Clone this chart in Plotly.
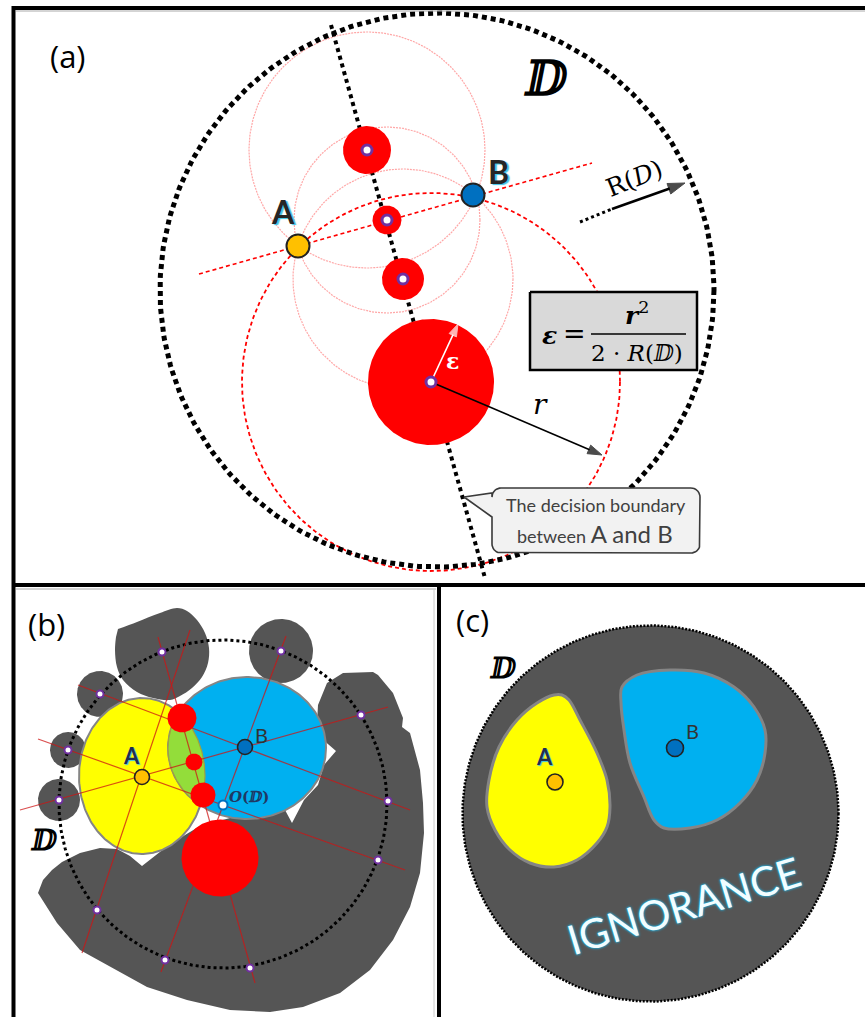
import numpy as np
import plotly.graph_objects as go

W, H = 865, 1017

# ---------------- panel (a) data ----------------
A_DOMAIN = [437, 290, 277]            # centre x, centre y, radius of dotted domain D
A_POINT_A = [298, 246]
A_POINT_B = [473, 195]
A_BALL_X = [367, 387, 403, 431]
A_BALL_Y = [150, 220, 279, 382]
A_BALL_R = [24, 14.5, 21, 63]
A_PINK_R = [118, 93, 110]             # thin circles through A and B
A_BIG_R = 189                         # red dashed circle through A and B
A_BISECTOR_X = [331, 485]
A_BISECTOR_Y = [25, 578]
A_ABLINE_X = [199, 592]
A_ABLINE_Y = [274, 163]
A_R_ARROW = [431, 382, 602, 455]
A_EPS_ARROW = [431, 382, 458, 324]
A_RD_DOTS = [580, 222, 612, 209]
A_RD_ARROW = [612, 209, 685, 183]
A_FORMULA_BOX = [530, 292, 697, 370]
A_CALLOUT_BOX = [492, 488, 700, 553]
A_CALLOUT_TIP = [464, 497]

# ---------------- panel (b) data ----------------
B_DOMAIN = [223, 804, 164]
B_CELL_A = [142, 776, 63, 78]          # ellipse cx, cy, rx, ry
B_CELL_B = [247, 748, 79, 71]
B_POINT_A = [142, 777]
B_POINT_B = [245, 747]
B_CENTER_O = [223, 805]
B_BALL_X = [182, 194, 203, 220]
B_BALL_Y = [718, 762, 795, 858]
B_BALL_R = [14.5, 8.5, 12.5, 38.5]
B_DOT_X = [162, 281, 100, 68, 59, 361, 388, 378, 97, 165, 250]
B_DOT_Y = [652, 651, 694, 750, 800, 715, 801, 860, 910, 960, 968]
B_BLOB_X = [100, 68, 59, 281]
B_BLOB_Y = [694, 750, 800, 651]
B_BLOB_R = [23, 18, 21, 32]
B_TOPBLOB_X = [118, 137, 160, 177, 187, 197, 205, 209, 208, 202, 192, 180, 170, 153, 137, 123, 117, 115, 116]
B_TOPBLOB_Y = [629, 622, 613, 608, 611, 620, 633, 648, 663, 677, 688, 696, 700, 698, 692, 680, 667, 650, 637]
B_GRAY_X = [38, 43, 52, 62, 80, 100, 117, 130, 142, 152, 165, 175, 185, 200, 230, 260, 285, 292, 304, 318,
            324, 336, 321, 317, 318, 327, 343, 373, 378, 393, 403, 402, 410, 420, 423, 424, 420, 410, 393,
            370, 340, 303, 270, 230, 187, 147, 110, 80, 57, 38]
B_GRAY_Y = [893, 880, 870, 862, 853, 848, 849, 856, 866, 858, 848, 842, 835, 826, 818, 815, 810, 823, 800, 785,
            765, 751, 738, 723, 705, 683, 673, 672, 675, 693, 718, 727, 733, 770, 803, 833, 873, 907, 940,
            970, 993, 1007, 1012, 1010, 1000, 987, 967, 950, 923, 893]
B_LINES = [  # x0, y0, x1, y1
    [190, 630, 82, 953],
    [158, 637, 255, 983],
    [78, 685, 410, 810],
    [38, 739, 405, 870],
    [20, 810, 388, 707],
    [286, 636, 161, 972],
]

# ---------------- panel (c) data ----------------
C_DOMAIN = [650.5, 813.5, 188]
C_CELL_A_X = [562, 569, 580, 597, 607, 610, 607, 597, 577, 554, 530, 510, 495, 487, 489, 499, 517, 537, 554, 562]
C_CELL_A_Y = [695, 700, 720, 753, 780, 807, 827, 843, 860, 867, 863, 850, 830, 807, 780, 747, 720, 703, 695, 695]
C_CELL_B_X = [622, 637, 670, 704, 734, 754, 765, 765, 757, 740, 717, 690, 664, 654, 644, 630, 624, 621, 622]
C_CELL_B_Y = [687, 675, 670, 673, 687, 707, 730, 753, 780, 803, 820, 828, 828, 820, 797, 763, 730, 703, 687]
C_POINT_A = [555, 782]
C_POINT_B = [675, 748]

GRAY = "#555555"
RED = "#ff0000"
PURPLE = "#7030a0"
ORANGE = "#ffc000"
BLUE_PT = "#0070c0"
CELL_BLUE = "#00b0f0"
CELL_YEL = "#ffff00"
OUTLINE = "#858585"

fig = go.Figure()


def circle_xy(cx, cy, r, n=240):
    t = np.linspace(0, 2 * np.pi, n)
    return cx + r * np.cos(t), cy + r * np.sin(t)


def ellipse_xy(e, n=240):
    t = np.linspace(0, 2 * np.pi, n)
    return e[0] + e[2] * np.cos(t), e[1] + e[3] * np.sin(t)


def add_poly(x, y, fill, line_color=None, line_width=0, dash=None, shape="linear"):
    fig.add_trace(go.Scatter(x=list(x), y=list(y), mode="lines", fill="toself", fillcolor=fill,
                             line=dict(color=line_color or fill, width=line_width, dash=dash, shape=shape),
                             hoverinfo="skip", showlegend=False))


def add_line(x, y, color, width, dash=None):
    fig.add_trace(go.Scatter(x=list(x), y=list(y), mode="lines",
                             line=dict(color=color, width=width, dash=dash),
                             hoverinfo="skip", showlegend=False))


def add_markers(x, y, size, color, line_color, line_width):
    fig.add_trace(go.Scatter(x=list(x), y=list(y), mode="markers",
                             marker=dict(size=size, color=color, line=dict(color=line_color, width=line_width)),
                             hoverinfo="skip", showlegend=False))


def add_arrow(seg, color, width, head):
    x0, y0, x1, y1 = seg
    fig.add_trace(go.Scatter(x=[x0, x1], y=[y0, y1], mode="lines+markers",
                             line=dict(color=color, width=width),
                             marker=dict(symbol=["circle", "arrow"], size=[0, head], color=color,
                                         angleref="previous", line=dict(width=1, color=color)),
                             hoverinfo="skip", showlegend=False))


# ======================= panel (a) =======================
for cx, cy, r in zip(A_BALL_X[:3], A_BALL_Y[:3], A_PINK_R):
    x, y = circle_xy(cx, cy, r)
    add_line(x, y, "rgba(255,60,60,0.45)", 1.2, "2px,1px")
x, y = circle_xy(A_BALL_X[3], A_BALL_Y[3], A_BIG_R)
add_line(x, y, RED, 1.8, "4px,3px")
add_line(A_ABLINE_X, A_ABLINE_Y, RED, 1.6, "4px,3px")
x, y = circle_xy(*A_DOMAIN, n=400)
add_line(x, y, "black", 5, "5px,4px")
add_line(A_BISECTOR_X, A_BISECTOR_Y, "black", 4, "4px,4px")
for cx, cy, r in zip(A_BALL_X, A_BALL_Y, A_BALL_R):
    x, y = circle_xy(cx, cy, r)
    add_poly(x, y, RED)
add_arrow(A_EPS_ARROW, "white", 1.6, 13)
add_arrow(A_R_ARROW, "black", 1.6, 15)
add_markers(A_BALL_X, A_BALL_Y, 10, "white", PURPLE, 3)
add_markers([A_POINT_A[0]], [A_POINT_A[1]], 23, ORANGE, "#222222", 2)
add_markers([A_POINT_B[0]], [A_POINT_B[1]], 23, BLUE_PT, "#222222", 2)

# formula box
fx0, fy0, fx1, fy1 = A_FORMULA_BOX
add_poly([fx0, fx1, fx1, fx0, fx0], [fy0, fy0, fy1, fy1, fy0], "#d9d9d9", "black", 2.5)
add_line([591, 686], [334, 334], "black", 1.5)

# callout box with tail
cx0, cy0, cx1, cy1 = A_CALLOUT_BOX
rr = 9
pts = []
for (ccx, ccy, a0) in [(cx1 - rr, cy0 + rr, -90), (cx1 - rr, cy1 - rr, 0), (cx0 + rr, cy1 - rr, 90), (cx0 + rr, cy0 + rr, 180)]:
    ang = np.radians(np.linspace(a0, a0 + 90, 10))
    pts += list(zip(ccx + rr * np.cos(ang), ccy + rr * np.sin(ang)))
    if a0 == 90:
        pts += [(cx0, cy0 + 29), (A_CALLOUT_TIP[0], A_CALLOUT_TIP[1]), (cx0, cy0 + 5)]
pts.append(pts[0])
add_poly([p[0] for p in pts], [p[1] for p in pts], "#f2f2f2", "#3a3a3a", 1.6)

# R(D) arrow: dotted lead-in then solid arrow
add_line([A_RD_DOTS[0], A_RD_DOTS[2]], [A_RD_DOTS[1], A_RD_DOTS[3]], "black", 3, "3px,3px")
add_arrow(A_RD_ARROW, "black", 2.6, 18)

# ======================= panel (b) =======================
add_poly(B_GRAY_X, B_GRAY_Y, GRAY)
add_poly(B_TOPBLOB_X, B_TOPBLOB_Y, GRAY, shape="spline")
for cx, cy, r in zip(B_BLOB_X, B_BLOB_Y, B_BLOB_R):
    x, y = circle_xy(cx, cy, r)
    add_poly(x, y, GRAY)
x, y = circle_xy(*B_DOMAIN, n=400)
add_line(x, y, "black", 3, "3px,3px")

yx, yy = ellipse_xy(B_CELL_A)
add_poly(yx, yy, CELL_YEL, OUTLINE, 2)
bx, by = ellipse_xy(B_CELL_B)
add_poly(bx, by, CELL_BLUE, OUTLINE, 2)


def inside(px, py, e):
    return ((px - e[0]) / e[2]) ** 2 + ((py - e[1]) / e[3]) ** 2 <= 1.0


yx2, yy2 = ellipse_xy(B_CELL_A, 900)
bx2, by2 = ellipse_xy(B_CELL_B, 900)
lens = [(a, b) for a, b in zip(yx2, yy2) if inside(a, b, B_CELL_B)] + \
       [(a, b) for a, b in zip(bx2, by2) if inside(a, b, B_CELL_A)]
mx = np.mean([p[0] for p in lens])
my = np.mean([p[1] for p in lens])
lens.sort(key=lambda p: np.arctan2(p[1] - my, p[0] - mx))
lens.append(lens[0])
add_poly([p[0] for p in lens], [p[1] for p in lens], "#93dd3a", "#a0a040", 1.2)

for x0, y0, x1, y1 in B_LINES:
    add_line([x0, x1], [y0, y1], "rgba(205,20,20,0.75)", 1.2)
for cx, cy, r in zip(B_BALL_X, B_BALL_Y, B_BALL_R):
    x, y = circle_xy(cx, cy, r)
    add_poly(x, y, RED)
add_markers(B_DOT_X, B_DOT_Y, 7, "white", PURPLE, 2)
add_markers([B_CENTER_O[0]], [B_CENTER_O[1]], 9, "white", BLUE_PT, 2)
add_markers([B_POINT_A[0]], [B_POINT_A[1]], 15, ORANGE, "#222222", 1.6)
add_markers([B_POINT_B[0]], [B_POINT_B[1]], 15, BLUE_PT, "#222222", 1.6)

# ======================= panel (c) =======================
x, y = circle_xy(*C_DOMAIN, n=400)
add_poly(x, y, GRAY, "black", 2.5, "2px,1.5px")
add_poly(C_CELL_A_X, C_CELL_A_Y, CELL_YEL, OUTLINE, 3, shape="spline")
add_poly(C_CELL_B_X, C_CELL_B_Y, CELL_BLUE, OUTLINE, 3, shape="spline")
add_markers([C_POINT_A[0]], [C_POINT_A[1]], 16, ORANGE, "#222222", 1.6)
add_markers([C_POINT_B[0]], [C_POINT_B[1]], 17, BLUE_PT, "#222222", 1.6)

# ======================= annotations =======================
ann = []


def txt(x, y, text, size, color="black", family="Lato", weight=400, style="normal", angle=0, shadow="none"):
    ann.append(dict(x=x, y=y, xref="x", yref="y", text=text, showarrow=False, textangle=angle,
                    font=dict(size=size, color=color, family=family, weight=weight, style=style, shadow=shadow),
                    xanchor="center", yanchor="middle"))


GLOW = "2px 1px 1px #3cc4e6"
txt(68, 56, "(a)", 31, family="Open Sans")
txt(545, 78, "ⅅ", 48, family="DejaVu Serif", weight=700)
txt(283, 211, "A", 32, "#262626", weight=700, shadow=GLOW)
txt(498, 171, "B", 32, "#262626", weight=700, shadow=GLOW)
txt(634, 178, "R(<i>D</i>)", 25, family="DejaVu Serif", angle=-22)
txt(540, 404, "<i>r</i>", 28, family="DejaVu Serif")
txt(452, 361, "ε", 22, "white", family="DejaVu Serif", weight=700)
txt(549, 335, "<b><i>ε</i></b>", 25, family="DejaVu Serif")
txt(574, 333, "=", 27, family="DejaVu Serif")
txt(637, 313, "<b><i>r</i></b><sup>2</sup>", 25, family="DejaVu Serif")
txt(637, 353, "2 · <i>R</i>(ⅅ)", 23, family="DejaVu Serif")
txt(596, 505, "The decision boundary", 18, "#404040")
txt(595, 533, "between <span style='font-size:24px'>A and B</span>", 18, "#404040")

txt(46, 624, "(b)", 31, family="Open Sans")
txt(131, 755, "A", 22, "#1f2f4f", weight=700, shadow="1px 1px 1px #3cc4e6")
txt(261, 735, "B", 20, "#333333")
txt(249, 797, "<i>O</i>(ⅅ)", 15, "#1f3864", family="DejaVu Serif", weight=700)
txt(43, 840, "ⅅ", 29, family="DejaVu Serif", weight=700)

txt(472, 620, "(c)", 31, family="Open Sans")
txt(502, 668, "ⅅ", 29, family="DejaVu Serif", weight=700)
txt(544, 756, "A", 22, "#1f2f4f", weight=700, shadow="1px 1px 1px #3cc4e6")
txt(692, 731, "B", 20, "#333333")
txt(683, 905, "IGNORANCE", 41, "#f2fdff", angle=-17, shadow="0 0 3px #19b5e8, 0 0 2px #19b5e8")

# frame lines
shapes = [
    dict(type="line", x0=12, y0=8, x1=865, y1=8, line=dict(color="black", width=4)),
    dict(type="line", x0=13.5, y0=6, x1=13.5, y1=1017, line=dict(color="black", width=4)),
    dict(type="line", x0=12, y0=585, x1=865, y1=585, line=dict(color="black", width=4)),
    dict(type="line", x0=439, y0=585, x1=439, y1=1017, line=dict(color="black", width=4)),
    dict(type="line", x0=16, y0=11, x1=865, y1=11, line=dict(color="#aaaaaa", width=1)),
    dict(type="line", x0=16, y0=589, x1=436, y1=589, line=dict(color="#aaaaaa", width=1)),
    dict(type="line", x0=434, y0=589, x1=434, y1=1017, line=dict(color="#cccccc", width=1)),
]

fig.update_layout(
    width=W, height=H, margin=dict(l=0, r=0, t=0, b=0),
    paper_bgcolor="white", plot_bgcolor="white",
    xaxis=dict(range=[0, W], visible=False, fixedrange=True),
    yaxis=dict(range=[H, 0], visible=False, fixedrange=True),
    annotations=ann, shapes=shapes, showlegend=False,
)

fig.write_html("out.html", config={"displayModeBar": False},
               post_script="document.body.style.margin='0px';document.body.style.overflow='hidden';")
